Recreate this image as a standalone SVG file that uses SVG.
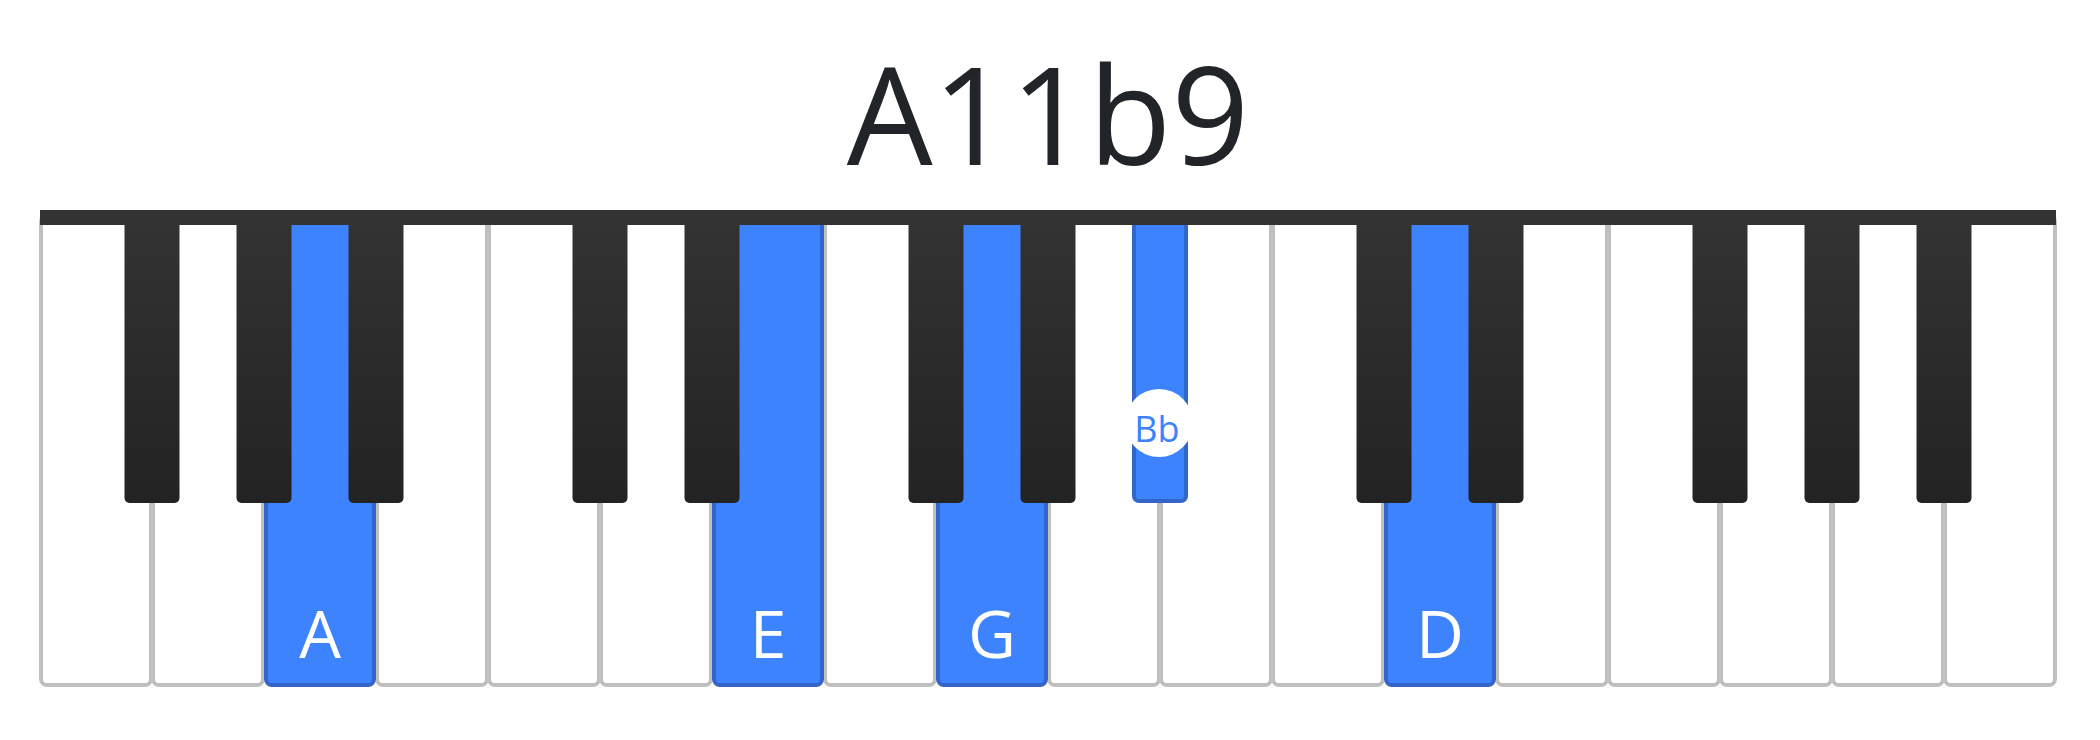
<svg xmlns="http://www.w3.org/2000/svg" width="2100" height="740" viewBox="0 0 2100 740">
<defs>
<linearGradient id="blk" x1="0" y1="0" x2="0" y2="1">
<stop offset="0" stop-color="#333333"/>
<stop offset="1" stop-color="#232323"/>
</linearGradient>
<style>
.w{fill:#ffffff;stroke:#c0c0c0;stroke-width:4}
.wb{fill:#3d83fe;stroke:#3466c9;stroke-width:4}
.b{fill:url(#blk)}
.bb{fill:#3d83fe;stroke:#3466c9;stroke-width:4}
.lbl{font-family:"Open Sans","Noto Sans",sans-serif;font-size:66px;fill:#ffffff;text-anchor:middle}
.title{font-family:"Open Sans","Noto Sans",sans-serif;font-size:136px;fill:#212529;text-anchor:middle}
.blbl{font-family:"Open Sans","Noto Sans",sans-serif;font-size:36px;fill:#3d83fe;text-anchor:middle}
</style>
</defs>
<rect width="2100" height="740" fill="#ffffff"/>
<text id="title" class="title" x="1048" y="165">A11b9</text>
<g id="white-keys">
<rect id="w0" class="w" x="41" y="216" width="110" height="469" rx="6"/>
<rect id="w1" class="w" x="153" y="216" width="110" height="469" rx="6"/>
<rect id="w3" class="w" x="377" y="216" width="110" height="469" rx="6"/>
<rect id="w4" class="w" x="489" y="216" width="110" height="469" rx="6"/>
<rect id="w5" class="w" x="601" y="216" width="110" height="469" rx="6"/>
<rect id="w7" class="w" x="825" y="216" width="110" height="469" rx="6"/>
<rect id="w9" class="w" x="1049" y="216" width="110" height="469" rx="6"/>
<rect id="w10" class="w" x="1161" y="216" width="110" height="469" rx="6"/>
<rect id="w11" class="w" x="1273" y="216" width="110" height="469" rx="6"/>
<rect id="w13" class="w" x="1497" y="216" width="110" height="469" rx="6"/>
<rect id="w14" class="w" x="1609" y="216" width="110" height="469" rx="6"/>
<rect id="w15" class="w" x="1721" y="216" width="110" height="469" rx="6"/>
<rect id="w16" class="w" x="1833" y="216" width="110" height="469" rx="6"/>
<rect id="w17" class="w" x="1945" y="216" width="110" height="469" rx="6"/>
</g>
<g id="key-A"><rect class="wb" x="266" y="216" width="108" height="469" rx="6"/><text class="lbl" x="320" y="658">A</text></g>
<g id="key-E"><rect class="wb" x="714" y="216" width="108" height="469" rx="6"/><text class="lbl" x="768" y="658">E</text></g>
<g id="key-G"><rect class="wb" x="938" y="216" width="108" height="469" rx="6"/><text class="lbl" x="992" y="658">G</text></g>
<g id="key-D"><rect class="wb" x="1386" y="216" width="108" height="469" rx="6"/><text class="lbl" x="1440" y="658">D</text></g>
<g id="black-keys">
<rect class="b" x="124.5" y="215" width="55" height="288" rx="5"/>
<rect class="b" x="236.5" y="215" width="55" height="288" rx="5"/>
<rect class="b" x="348.5" y="215" width="55" height="288" rx="5"/>
<rect class="b" x="572.5" y="215" width="55" height="288" rx="5"/>
<rect class="b" x="684.5" y="215" width="55" height="288" rx="5"/>
<rect class="b" x="908.5" y="215" width="55" height="288" rx="5"/>
<rect class="b" x="1020.5" y="215" width="55" height="288" rx="5"/>
<rect class="b" x="1356.5" y="215" width="55" height="288" rx="5"/>
<rect class="b" x="1468.5" y="215" width="55" height="288" rx="5"/>
<rect class="b" x="1692.5" y="215" width="55" height="288" rx="5"/>
<rect class="b" x="1804.5" y="215" width="55" height="288" rx="5"/>
<rect class="b" x="1916.5" y="215" width="55" height="288" rx="5"/>
</g>
<g id="key-Bb">
<rect class="bb" x="1134" y="215" width="52" height="286" rx="5"/>
<circle cx="1159" cy="423" r="34" fill="#ffffff"/>
<text class="blbl" x="1157" y="442">Bb</text>
</g>
<rect id="top-bar" x="40" y="210" width="2016" height="15" fill="#333333"/>
</svg>
